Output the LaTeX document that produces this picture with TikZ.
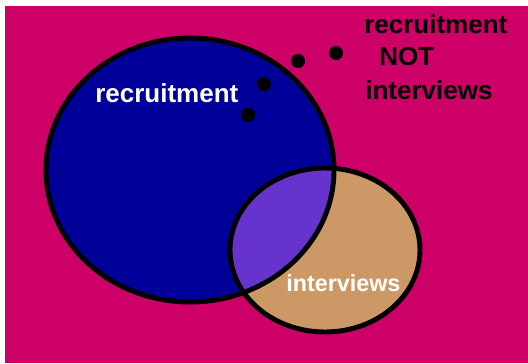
\documentclass[tikz,border=0pt]{standalone}
\usepackage{fontspec}
\setmainfont{Liberation Sans}
\definecolor{backpink}{HTML}{CC0066}
\definecolor{recrblue}{HTML}{000099}
\definecolor{intertan}{HTML}{CC9966}
\definecolor{bothpurple}{HTML}{6633CC}
\begin{document}
\begin{tikzpicture}[x=0.025cm,y=-0.025cm,%
% common options for the labels:
label/.style = {font=\bfseries\fontsize{18.5}{20}\selectfont, inner sep=0, anchor=base west},
% common options for the dots:
dot/.style = {circle, fill=black, minimum size=10, inner sep=0},
% common options for the sets:
set/.style = {draw=black, line width=3.5pt}]
\useasboundingbox (0,0) rectangle (528,363);
\fill[backpink] (5,6) rectangle (528,363);
% the two sets and their overlap
\fill[recrblue] (190,170) ellipse (144 and 132);
\fill[intertan] (325,250) ellipse (95 and 82);
\begin{scope}
\clip (190,170) ellipse (144 and 132);
\fill[bothpurple] (325,250) ellipse (95 and 82);
\end{scope}
\draw[set] (190,170) ellipse (144 and 132);
\draw[set] (325,250) ellipse (95 and 82);
\node[label,text=white] (R) at (95,102) {recruitment};
\node[label,text=white,font=\bfseries\fontsize{16.6}{18}\selectfont] (I) at (286,291) {interviews};
\node[label] (T1) at (364,33) {recruitment};
\node[label] (T2) at (379,65) {NOT};
\node[label] (T3) at (365,99) {interviews};
\node[dot] (D1) at (336,53) {};
\node[dot] (D2) at (298,61) {};
\node[dot] (D3) at (264,84) {};
\node[dot] (D4) at (248,115) {};
\end{tikzpicture}
\end{document}
